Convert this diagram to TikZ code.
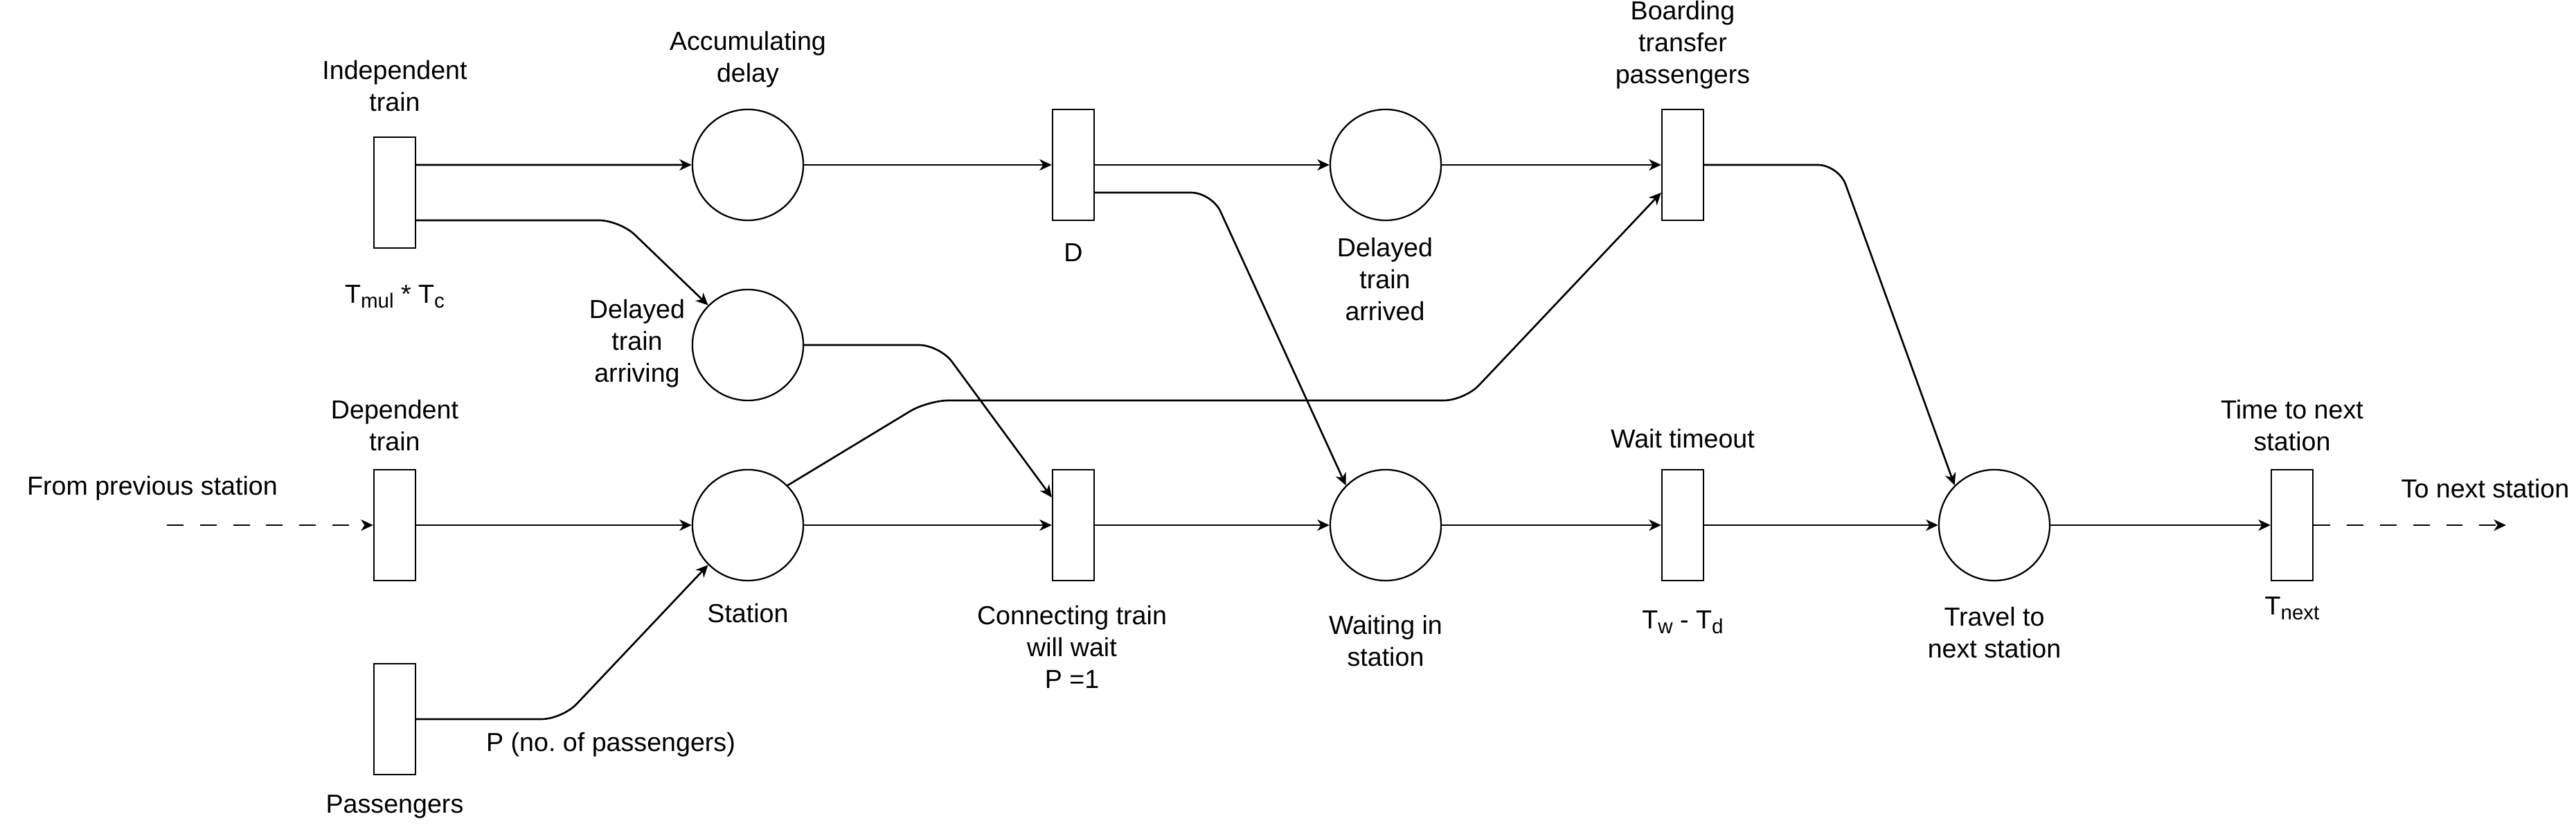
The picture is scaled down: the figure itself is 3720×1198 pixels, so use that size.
\documentclass[tikz,border=0pt]{standalone}
\usepackage{fontspec}
\setmainfont{Liberation Sans}
\usetikzlibrary{arrows.meta}
\newcommand{\sbs}[1]{\raisebox{-2pt}{\fontsize{8.4}{9}\selectfont #1}}
\tikzset{
	txt/.style = {align=center, inner sep=0pt, text centered, font=\fontsize{10.7}{13.1}\selectfont},
	place/.style = {circle, draw=black, line width=0.65pt, minimum size=1.6cm, inner sep=0pt},
	transition/.style = {rectangle, draw=black, line width=0.65pt, minimum width=0.6cm, minimum height=1.6cm, inner sep=0pt},
	flow/.style = {-{Stealth[length=5pt,width=4.6pt,inset=1.5pt]}, line width=0.75pt, rounded corners=3mm},
	dashflow/.style = {flow, dash pattern=on 6.8pt off 6.8pt}
}

\begin{document}
\begin{tikzpicture}[x=0.01cm, y=-0.01cm]
		\useasboundingbox (0,0) rectangle (3720,1198);
		% places and transitions
		\node [transition] (tindep) at (570,278) {};
		\node [place] (paccum) at (1080,238) {};
		\node [place] (parriving) at (1080,498) {};
		\node [transition] (tdelay) at (1550,238) {};
		\node [place] (parrived) at (2001,238) {};
		\node [transition] (tboard) at (2430,238) {};
		\node [transition] (tdep) at (570,758) {};
		\node [place] (pstation) at (1080,758) {};
		\node [transition] (tpass) at (570,1038) {};
		\node [transition] (tconnect) at (1550,758) {};
		\node [place] (pwaiting) at (2001,758) {};
		\node [transition] (twait) at (2430,758) {};
		\node [place] (ptravel) at (2880,758) {};
		\node [transition] (tnext) at (3310,758) {};
		\coordinate (cfrom) at (241,758);
		\coordinate (cto) at (3619,758);
		% labels
		\node [txt] (lindep) at (570,124) {Independent\\train};
		\node [txt] (laccum) at (1080,86) {Accumulating\\delay};
		\node [txt] (ltc) at (570,428) {T\sbs{mul} * T\sbs{c}};
		\node [txt] (larriving) at (920,496) {Delayed\\train\\arriving};
		\node [txt] (ldelay) at (1550,365) {D};
		\node [txt] (larrived) at (2000,403) {Delayed\\train\\arrived};
		\node [txt] (lboard) at (2430,65) {Boarding\\transfer\\passengers};
		\node [txt] (ldep) at (570,614) {Dependent\\train};
		\node [txt] (lfrom) at (220,705) {From previous station};
		\node [txt] (lstation) at (1080,885) {Station};
		\node [txt] (lp) at (882,1075) {P (no.\ of passengers)};
		\node [txt] (lpass) at (570,1164) {Passengers};
		\node [txt] (lconnect) at (1548,934) {Connecting train\\will wait\\P =1};
		\node [txt] (lwaiting) at (2001,925) {Waiting in\\station};
		\node [txt] (lwait) at (2430,633) {Wait timeout};
		\node [txt] (ltw) at (2430,898) {T\sbs{w} - T\sbs{d}};
		\node [txt] (ltravel) at (2880,913) {Travel to\\next station};
		\node [txt] (ltime) at (3310,614) {Time to next\\station};
		\node [txt] (ltnext) at (3310,878) {T\sbs{next}};
		\node [txt] (lto) at (3589,705) {To next station};
		% arcs
		\draw [flow] ([yshift=4mm]tindep.east) -- (paccum);
		\draw [flow] ([yshift=-4mm]tindep.east) -- (895,318) -- (parriving.135);
		\draw [flow] (paccum) -- (tdelay);
		\draw [flow] (tdelay) -- (parrived);
		\draw [flow] ([yshift=-4mm]tdelay.east) -- (1750,278) -- (pwaiting.135);
		\draw [flow] (parrived) -- (tboard);
		\draw [flow] (tboard.east) -- (2655,238) -- (ptravel.135);
		\draw [flow] (parriving.east) -- (1357,498) -- ([yshift=4mm]tconnect.west);
		\draw [dashflow] (cfrom) -- (tdep);
		\draw [flow] (tdep) -- (pstation);
		\draw [flow] (tpass.east) -- (812,1038) -- (pstation.225);
		\draw [flow] (pstation.45) -- (1340,578) -- (2115,578) -- ([yshift=-4mm]tboard.west);
		\draw [flow] (pstation) -- (tconnect);
		\draw [flow] (tconnect) -- (pwaiting);
		\draw [flow] (pwaiting) -- (twait);
		\draw [flow] (twait) -- (ptravel);
		\draw [flow] (ptravel) -- (tnext);
		\draw [dashflow] (tnext) -- (cto);
\end{tikzpicture}
\end{document}
